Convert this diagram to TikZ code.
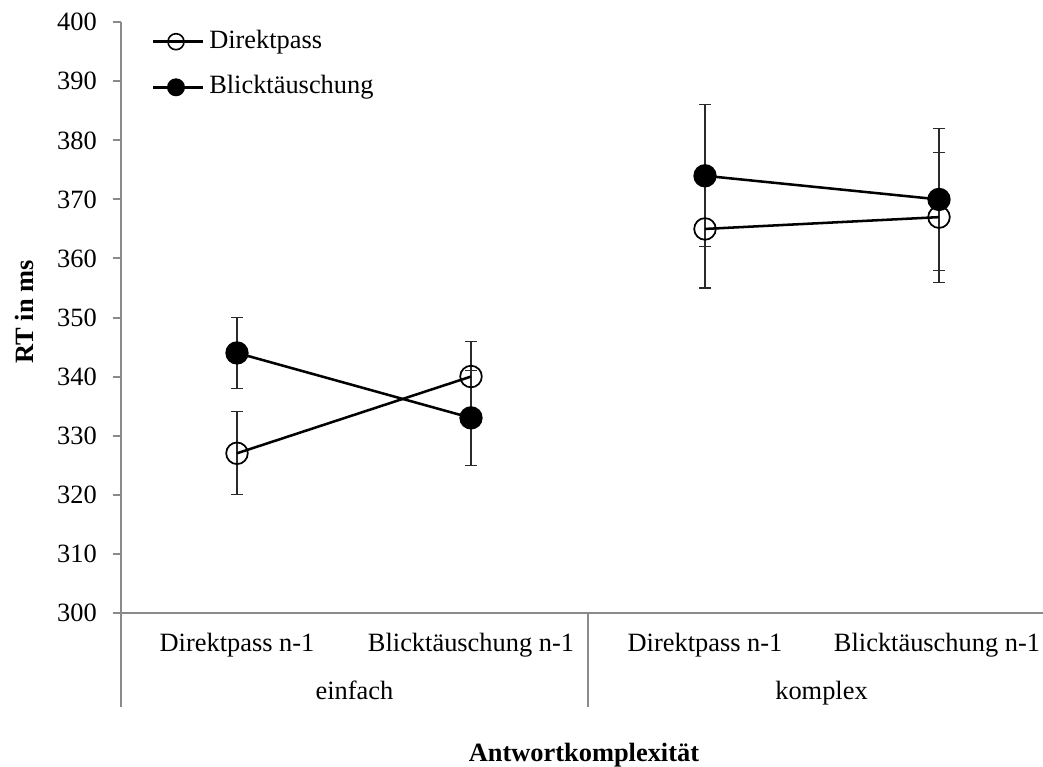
\documentclass[tikz,border=0pt]{standalone}
\usepackage{fontspec}
\setmainfont{Liberation Serif}
\definecolor{axisgrey}{HTML}{8A8A8A}
\definecolor{bargrey}{HTML}{2A2A2A}
\newcommand\V[1]{612.7-(#1-300)*5.904}
\newcommand\errbar[3]{\draw[errline] (#1,{\V{#2}}) -- (#1,{\V{#3}});
  \draw[errline] (#1-6,{\V{#2}}) -- (#1+6,{\V{#2}});
  \draw[errline] (#1-6,{\V{#3}}) -- (#1+6,{\V{#3}});}
\begin{document}
\begin{tikzpicture}[x=0.75pt,y=-0.75pt,
  axis/.style={draw=axisgrey, line width=1.5pt},
  lbl/.style={font=\fontsize{19.8}{24}\selectfont, inner sep=0pt},
  ttl/.style={font=\fontsize{19.8}{24}\selectfont\bfseries, inner sep=0pt},
  errline/.style={draw=bargrey, line width=0.8pt},
  series/.style={draw=black, line width=1.9pt},
  openmark/.style={circle, draw=black, line width=1.3pt, minimum size=16.2pt, inner sep=0pt},
  fillmark/.style={circle, fill=black, minimum size=17.5pt, inner sep=0pt},
  legopen/.style={circle, draw=black, line width=1.2pt, minimum size=12pt, inner sep=0pt},
  legfill/.style={circle, fill=black, minimum size=13.5pt, inner sep=0pt}]
\useasboundingbox (0,0) rectangle (1043,767);
% axes
\draw[axis] (121,22.3) -- (121,707);
\draw[axis] (112.7,612.7) -- (1043,612.7);
\draw[axis] (588,612.7) -- (588,707);
\foreach \v in {310,320,...,400}{
  \draw[axis] (112.7,{\V{\v}}) -- (121,{\V{\v}});
}
\foreach \v in {300,310,...,400}{
  \node[lbl, anchor=east] (t\v) at (97,{\V{\v}}) {\v};
}
% category labels
\node[lbl, anchor=base] (c1) at (237,651.7) {Direktpass n-1};
\node[lbl, anchor=base] (c2) at (471,651.7) {Blicktäuschung n-1};
\node[lbl, anchor=base] (c3) at (705,651.7) {Direktpass n-1};
\node[lbl, anchor=base] (c4) at (937,651.7) {Blicktäuschung n-1};
\node[lbl, anchor=base] (g1) at (354.5,699) {einfach};
\node[lbl, anchor=base] (g2) at (821.5,699) {komplex};
\node[ttl, anchor=base] (xt) at (584,761) {Antwortkomplexität};
\node[ttl, rotate=90] (yt) at (24,312) {RT in ms};
% error bars
\errbar{237}{320}{334}
\errbar{237}{338}{350}
\errbar{471}{334}{346}
\errbar{471}{325}{341}
\errbar{705}{355}{375}
\errbar{705}{362}{386}
\errbar{939}{356}{378}
\errbar{939}{358}{382}
% data nodes
\coordinate (o1) at (237,{\V{327}});
\coordinate (o2) at (471,{\V{340}});
\coordinate (o3) at (705,{\V{365}});
\coordinate (o4) at (939,{\V{367}});
\coordinate (f1) at (237,{\V{344}});
\coordinate (f2) at (471,{\V{333}});
\coordinate (f3) at (705,{\V{374}});
\coordinate (f4) at (939,{\V{370}});
\draw[series] (o1) -- (o2);
\draw[series] (o3) -- (o4);
\draw[series] (f1) -- (f2);
\draw[series] (f3) -- (f4);
\foreach \n in {o1,o2,o3,o4}{ \node[openmark] at (\n) {}; }
\foreach \n in {f1,f2,f3,f4}{ \node[fillmark] at (\n) {}; }
% legend
\coordinate (la1) at (153,41.7);
\coordinate (lb1) at (203,41.7);
\coordinate (la2) at (153,87.3);
\coordinate (lb2) at (203,87.3);
\draw[series] (la1) -- (lb1);
\draw[series] (la2) -- (lb2);
\node[legopen] (lm1) at (176,41.7) {};
\node[legfill] (lm2) at (176,87.3) {};
\node[lbl, anchor=west] (lt1) at (209,41.7) {Direktpass};
\node[lbl, anchor=west] (lt2) at (209,87.3) {Blicktäuschung};
\end{tikzpicture}
\end{document}
